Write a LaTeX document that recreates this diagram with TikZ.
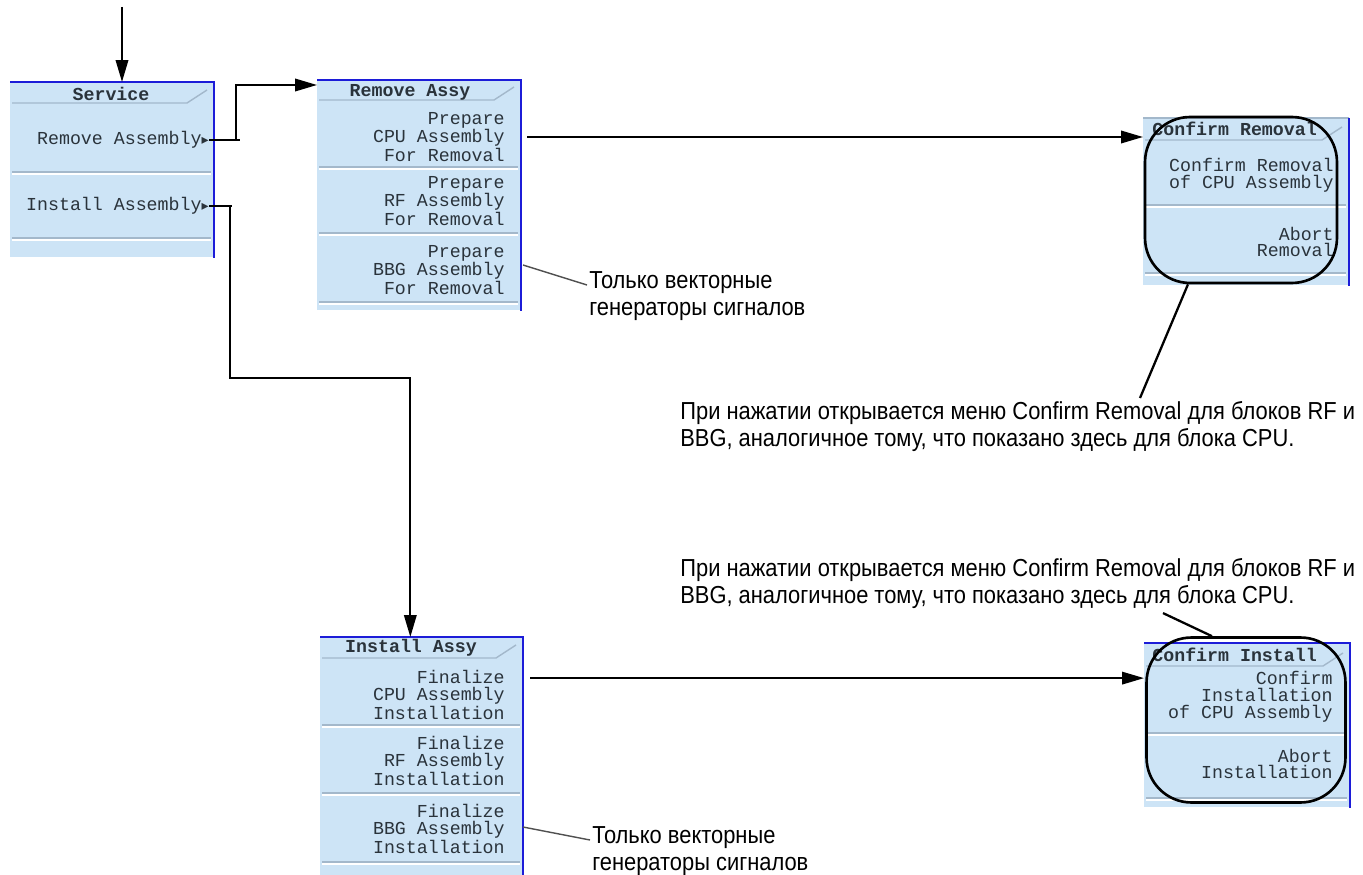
\documentclass[tikz,border=0pt]{standalone}
\usepackage{fontspec}
\setmainfont{Liberation Sans}
\newfontfamily\notefont[FakeStretch=0.89]{Liberation Sans}
\newfontfamily\menufont{Liberation Mono}
\newfontfamily\symfont{DejaVu Sans}
\usetikzlibrary{arrows.meta,calc,positioning}
\definecolor{MenuFill}{HTML}{CDE4F6}
\definecolor{MenuBlue}{HTML}{1C1CD8}
\definecolor{MenuRule}{HTML}{A3B8CB}
\definecolor{MenuInk}{HTML}{2A333B}
\definecolor{NoteLine}{HTML}{505050}

% separator of a menu row, with its white bevel
\newcommand{\menusep}[3]{%
  \draw[MenuRule,line width=0.8pt] (#1,#3) -- (#2,#3);
  \draw[white,line width=0.8pt] (#1,#3+1.8) -- (#2,#3+1.8);}
% title underline with the slanted tab end
\newcommand{\menutab}[3]{%
  \draw[MenuRule,line width=0.8pt] (#1,#3) -- (#2-24,#3) -- (#2-4,#3-13);}

\begin{document}
\begin{tikzpicture}[x=0.02cm,y=-0.02cm,
    panel/.style={fill=MenuFill,inner sep=0pt,anchor=north west},
    rim/.style={MenuBlue,line width=1.3pt},
    ttl/.style={font=\menufont\bfseries\fontsize{10.4}{10}\selectfont,text=MenuInk,inner sep=0pt},
    row/.style={font=\menufont\fontsize{10.4}{9.6}\selectfont,text=MenuInk,align=right,anchor=east,inner sep=0pt},
    arr/.style={-{Triangle[length=4.4mm,width=2.5mm]},line width=1.1pt},
    hint/.style={NoteLine,line width=0.8pt},
    note/.style={font=\notefont\fontsize{14}{15.5}\selectfont,align=left,anchor=north west,inner sep=0pt},
    loop/.style={draw,line width=1.5pt,rounded corners=0.9cm}]
  \useasboundingbox[fill=white] (0,0) rectangle (1363,875);

  % Service
  \node[panel,minimum width=4.06cm,minimum height=3.5cm] (svc) at (10,82) {};
  \menutab{12}{211}{103}
  \menusep{12}{211}{172}
  \menusep{12}{211}{238}
  \draw[rim] (svc.north west) -- (svc.north east) -- (svc.south east);
  \node[ttl] (svct) at (111,94) {Service};
  \node[row] (svcrem) at (209,140) {Remove Assembly{\symfont\fontsize{8}{8}\selectfont▸}};
  \node[row] (svcins) at (209,206) {Install Assembly{\symfont\fontsize{8}{8}\selectfont▸}};

  % Remove Assy
  \node[panel,minimum width=4.06cm,minimum height=4.6cm] (rem) at (317,80) {};
  \menutab{319}{518}{100}
  \menusep{319}{518}{167}
  \menusep{319}{518}{233}
  \menusep{319}{518}{302}
  \draw[rim] (rem.north west) -- (rem.north east) -- (rem.south east);
  \node[ttl] (remt) at (410,92) {Remove Assy};
  \node[row] (remcpu) at (505,137) {Prepare\\CPU Assembly\\For Removal};
  \node[row] (remrf) at (505,201) {Prepare\\RF Assembly\\For Removal};
  \node[row] (rembbg) at (505,270) {Prepare\\BBG Assembly\\For Removal};

  % Confirm Removal
  \node[panel,minimum width=4.1cm,minimum height=3.34cm] (cfr) at (1143,118) {};
  \menutab{1145}{1346}{140}
  \menusep{1145}{1346}{205}
  \menusep{1145}{1346}{273}
  \draw[MenuRule,line width=1.3pt] (cfr.north west) -- (cfr.north east);
  \draw[rim] (cfr.north east) -- (cfr.south east);
  \node[ttl,anchor=west] (cfrt) at (1152,129) {Confirm Removal};
  \node[row] (cfrok) at (1334,175) {Confirm Removal\\of CPU Assembly};
  \node[row] (cfrno) at (1334,242) {Abort\\Removal};
  \node[loop,minimum width=3.84cm,minimum height=3.32cm] (cfrloop) at (1241,200) {};

  % Install Assy
  \node[panel,minimum width=4.04cm,minimum height=4.76cm] (ins) at (320,637) {};
  \menutab{322}{520}{658}
  \menusep{322}{520}{725}
  \menusep{322}{520}{793}
  \menusep{322}{520}{862}
  \draw[rim] (ins.north west) -- (ins.north east) -- (ins.south east);
  \node[ttl] (inst) at (411,648) {Install Assy};
  \node[row] (inscpu) at (505,695) {Finalize\\CPU Assembly\\Installation};
  \node[row] (insrf) at (505,761) {Finalize\\RF Assembly\\Installation};
  \node[row] (insbbg) at (505,829) {Finalize\\BBG Assembly\\Installation};

  % Confirm Install
  \node[panel,minimum width=4.1cm,minimum height=3.28cm] (cfi) at (1144,643) {};
  \menutab{1146}{1347}{666}
  \menusep{1146}{1347}{733}
  \menusep{1146}{1347}{798}
  \draw[rim] (cfi.north west) -- (cfi.north east) -- (cfi.south east);
  \node[ttl,anchor=west] (cfit) at (1152,655) {Confirm Install};
  \node[row] (cfiok) at (1333,697) {Confirm\\Installation\\of CPU Assembly};
  \node[row] (cfino) at (1333,764) {Abort\\Installation};
  \node[loop,minimum width=3.98cm,minimum height=3.3cm] (cfiloop) at (1246,720) {};

  % notes
  \node[note] (remonly) at (589,271) {Только векторные\\генераторы сигналов};
  \node[note] (insonly) at (592,826) {Только векторные\\генераторы сигналов};
  \node[note] (remmore) at (680,401) {При нажатии открывается меню Confirm Removal для блоков RF и\\BBG, аналогичное тому, что показано здесь для блока CPU.};
  \node[note] (insmore) at (680,558) {При нажатии открывается меню Confirm Removal для блоков RF и\\BBG, аналогичное тому, что показано здесь для блока CPU.};

  % connectors
  \coordinate (entry) at (122,7);
  \draw[arr] (entry) -- (entry |- svc.north);

  \coordinate (jr) at ($(svcrem.east)+(27,0)$);
  \draw[line width=1.1pt] (svcrem.east) -- ++(31,0);
  \draw[arr] (jr) |- ([yshift=-0.1cm]rem.north west);

  \coordinate (ji) at ($(svcins.east)+(21,0)$);
  \coordinate (insin) at ($(ins.north)+(-11,0)$);
  \draw[line width=1.1pt] (svcins.east) -- ++(23,0);
  \draw[arr] (ji) |- ($(insin)+(0,-259)$) -- (insin);

  \draw[arr] ([xshift=0.44cm]remcpu.east) -- (remcpu.east -| cfr.west);
  \draw[arr] ([xshift=0.5cm,yshift=-0.16cm]inscpu.north east) -- ([yshift=-0.16cm]inscpu.north east -| cfi.west);

  \draw[hint] ([xshift=0.36cm,yshift=0.1cm]rembbg.east) -- ($(remonly.north west)+(-2,14)$);
  \draw[hint] ([xshift=0.36cm,yshift=0.04cm]insbbg.east) -- ($(insonly.north west)+(-2,14)$);

  \draw[line width=1.3pt] ($(cfrloop.south)+(-53,0)$) -- ($(remmore.north west)+(460,-3)$);
  \draw[line width=1.3pt] ($(insmore.south west)+(483,4)$) -- ($(cfiloop.north)+(-34,0)$);
\end{tikzpicture}
\end{document}
